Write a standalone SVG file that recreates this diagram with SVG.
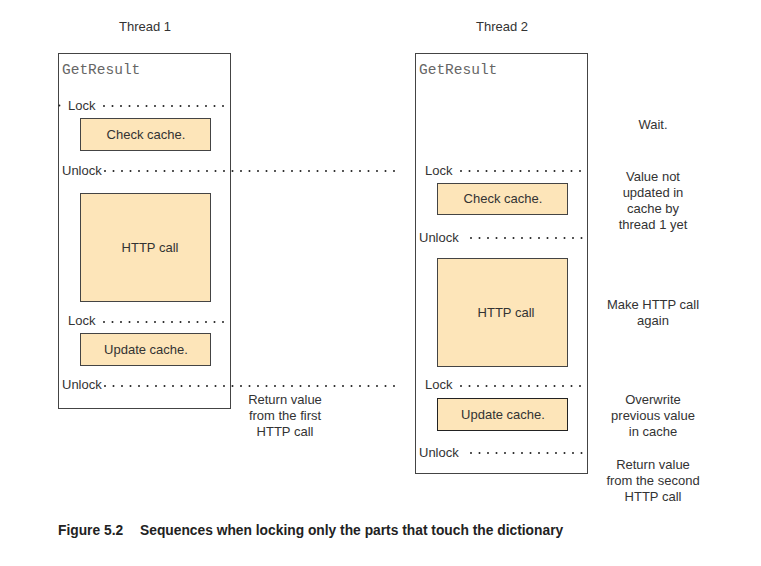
<svg xmlns="http://www.w3.org/2000/svg" width="761" height="566" viewBox="0 0 761 566">
<style>
.frame{fill:#fff;stroke:#444;stroke-width:1}
.box{fill:#fde5b9;stroke:#444;stroke-width:1}
.lbl{font-family:"Liberation Sans",Arial,sans-serif;font-size:13px;fill:#333}
.c{text-anchor:middle}
.mono{font-family:"Liberation Mono","Courier New",monospace;font-size:14.5px;fill:#666}
.dots{stroke:#222;stroke-width:2;stroke-linecap:round;stroke-dasharray:0 8.5;fill:none}
.cap{font-family:"Liberation Sans",Arial,sans-serif;font-size:13.8px;font-weight:bold;fill:#222}
</style>
<rect width="761" height="566" fill="#fff"/>
<text class="lbl c" x="145" y="31">Thread 1</text>
<text class="lbl c" x="502" y="31">Thread 2</text>
<g id="thread1">
<rect class="frame" x="58.5" y="53.5" width="172" height="355"/>
<text class="mono" x="62" y="74">GetResult</text>
</g>
<g id="thread2">
<rect class="frame" x="415.5" y="53.5" width="172" height="420"/>
<text class="mono" x="419" y="74">GetResult</text>
</g>
<g id="t1-check"><rect class="box" x="80.5" y="118.5" width="130" height="32"/><text class="lbl c" x="146" y="139">Check cache.</text></g>
<g id="t1-http"><rect class="box" x="80.5" y="193.5" width="130" height="108"/><text class="lbl c" x="150" y="252">HTTP call</text></g>
<g id="t1-update"><rect class="box" x="80.5" y="333.5" width="130" height="32"/><text class="lbl c" x="146" y="354">Update cache.</text></g>
<g id="t2-check"><rect class="box" x="437.5" y="183.5" width="130" height="31"/><text class="lbl c" x="503" y="203">Check cache.</text></g>
<g id="t2-http"><rect class="box" x="437.5" y="258.5" width="130" height="108"/><text class="lbl c" x="506" y="317">HTTP call</text></g>
<g id="t2-update"><rect class="box" x="437.5" y="398.5" width="130" height="32" style="stroke:#222"/><text class="lbl c" x="503" y="419">Update cache.</text></g>
<g id="connectors">
<circle cx="59.5" cy="105.5" r="0.9" fill="#222"/>
<line class="dots" x1="104" y1="106" x2="228" y2="106"/>
<line class="dots" x1="105" y1="171" x2="400" y2="171"/>
<line class="dots" x1="104" y1="322" x2="228" y2="322"/>
<line class="dots" x1="105" y1="386" x2="400" y2="386"/>
<line class="dots" x1="461" y1="171" x2="585" y2="171"/>
<line class="dots" x1="471" y1="238" x2="585" y2="238"/>
<line class="dots" x1="461" y1="386" x2="585" y2="386"/>
<line class="dots" x1="471" y1="453" x2="585" y2="453"/>
</g>
<g id="labels">
<text class="lbl" x="68" y="110">Lock</text>
<text class="lbl" x="62" y="175">Unlock</text>
<text class="lbl" x="68" y="325">Lock</text>
<text class="lbl" x="62" y="389">Unlock</text>
<text class="lbl" x="425" y="175">Lock</text>
<text class="lbl" x="419" y="242">Unlock</text>
<text class="lbl" x="425" y="389">Lock</text>
<text class="lbl" x="419" y="457">Unlock</text>
<text class="lbl c"><tspan x="285" y="404">Return value</tspan><tspan x="285" y="420">from the first</tspan><tspan x="285" y="436">HTTP call</tspan></text>
<text class="lbl c" x="653" y="129">Wait.</text>
<text class="lbl c"><tspan x="653" y="181">Value not</tspan><tspan x="653" y="197">updated in</tspan><tspan x="653" y="213">cache by</tspan><tspan x="653" y="229">thread 1 yet</tspan></text>
<text class="lbl c"><tspan x="653" y="309">Make HTTP call</tspan><tspan x="653" y="325">again</tspan></text>
<text class="lbl c"><tspan x="653" y="404">Overwrite</tspan><tspan x="653" y="420">previous value</tspan><tspan x="653" y="436">in cache</tspan></text>
<text class="lbl c"><tspan x="653" y="469">Return value</tspan><tspan x="653" y="485">from the second</tspan><tspan x="653" y="501">HTTP call</tspan></text>
</g>
<text class="cap" x="58" y="535">Figure 5.2</text>
<text class="cap" x="140" y="535">Sequences when locking only the parts that touch the dictionary</text>
</svg>
